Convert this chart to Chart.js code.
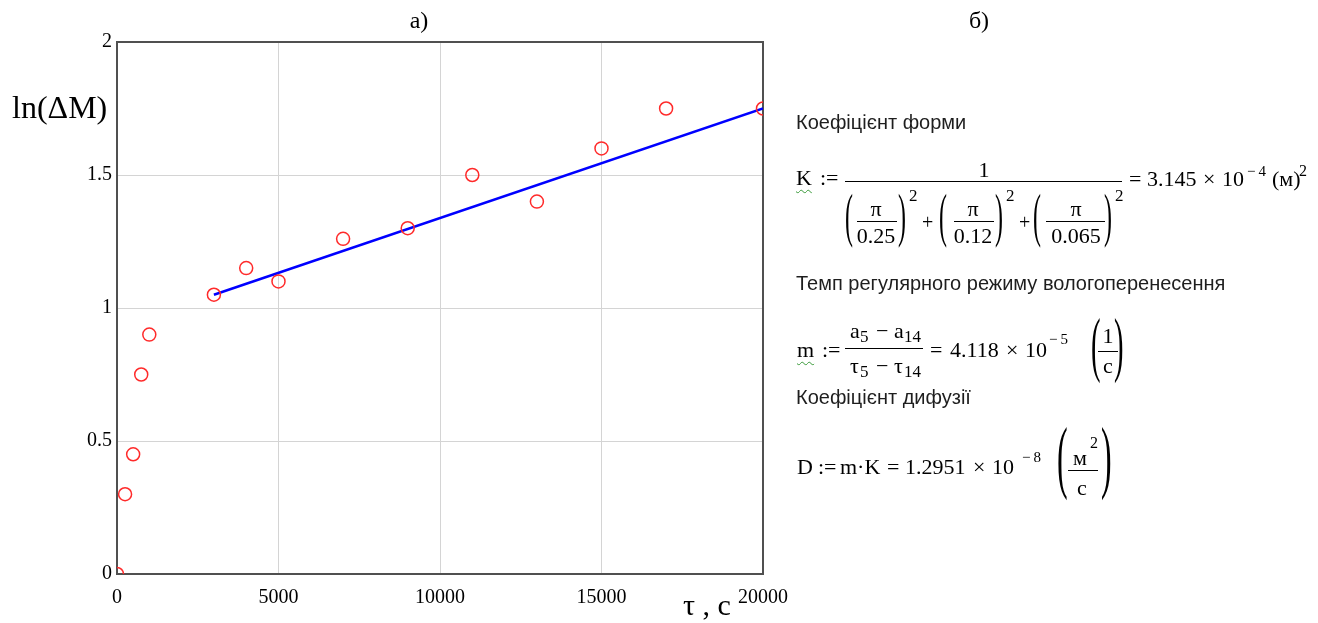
<!DOCTYPE html>
<html>
<head>
<meta charset="utf-8">
<script src="https://cdn.jsdelivr.net/npm/chart.js@4/dist/chart.umd.min.js"></script>
<style>
  html, body { margin:0; padding:0; background:#fff; }
  #wrap { position:relative; width:1318px; height:623px; overflow:hidden; background:#fff; }
  #c { position:absolute; left:0; top:0; }
  .wavy { text-decoration: underline wavy #3a9a3a; text-decoration-thickness: 1px; text-underline-offset: 4px; }
</style>
</head>
<body>
<div id="wrap">
  <canvas id="c" width="1318" height="623"></canvas>
</div>
<script>
// ---- data ----
const tauSec    = [0, 250, 500, 750, 1000, 3000, 4000, 5000, 7000, 9000, 11000, 13000, 15000, 17000, 20000];
const lnDeltaM  = [0, 0.3, 0.45, 0.75, 0.9, 1.05, 1.15, 1.1, 1.26, 1.3, 1.5, 1.4, 1.6, 1.75, 1.75];
const fitTau    = [3000, 20000];
const fitLn     = [1.05, 1.75];
const xTickLabels = ['0', '5000', '10000', '15000', '20000'];
const yTickLabels = ['0', '0.5', '1', '1.5', '2'];

const SERIF = "'Liberation Serif', 'Times New Roman', serif";
const SANS  = "'Liberation Sans', Arial, sans-serif";

const framePlugin = {
  id: 'frame',
  beforeDatasetsDraw(chart) {
    const a = chart.chartArea, ctx = chart.ctx;
    ctx.save();
    ctx.strokeStyle = '#505050';
    ctx.lineWidth = 2;
    ctx.strokeRect(a.left, a.top, a.right - a.left, a.bottom - a.top);
    ctx.restore();
  }
};

new Chart(document.getElementById('c'), {
  type: 'scatter',
  data: {
    datasets: [
      {
        type: 'line',
        data: fitTau.map((x, i) => ({ x, y: fitLn[i] })),
        borderColor: '#0000ff',
        borderWidth: 2.5,
        pointRadius: 0,
        fill: false,
        order: 2
      },
      {
        data: tauSec.map((x, i) => ({ x, y: lnDeltaM[i] })),
        pointStyle: 'circle',
        pointRadius: 6.5,
        pointBorderWidth: 1.5,
        borderColor: '#ff2a2a',
        backgroundColor: 'rgba(0,0,0,0)',
        clip: 0,
        order: 1
      }
    ]
  },
  options: {
    responsive: false,
    animation: false,
    devicePixelRatio: 1,
    layout: { padding: { left: 0, top: 42, right: 555, bottom: 0 } },
    plugins: { legend: { display: false }, tooltip: { enabled: false } },
    scales: {
      x: {
        type: 'linear', min: 0, max: 20000,
        border: { display: false },
        grid: { color: '#d4d4d4', lineWidth: 1, drawTicks: false },
        ticks: {
          stepSize: 5000, autoSkip: false, maxRotation: 0, padding: 12,
          color: '#000', font: { family: SERIF, size: 20 },
          callback: (v, i) => xTickLabels[i]
        },
        afterFit: s => { s.height = 49; }
      },
      y: {
        type: 'linear', min: 0, max: 2,
        border: { display: false },
        grid: { color: '#d4d4d4', lineWidth: 1, drawTicks: false },
        ticks: {
          stepSize: 0.5, autoSkip: false, padding: 5,
          color: '#000', font: { family: SERIF, size: 20 },
          callback: (v, i) => yTickLabels[i]
        },
        afterFit: s => { s.width = 117; }
      }
    }
  },
  plugins: [framePlugin]
});

// ---- text overlay ----
const wrap = document.getElementById('wrap');
function T(text, x, base, o = {}) {
  const s = document.createElement('span');
  s.textContent = text;
  const size = o.size || 22;
  const fam = o.sans ? SANS : SERIF;
  const k = o.sans ? 0.8465 : 0.8375;
  s.style.cssText = `position:absolute;white-space:pre;font-family:${fam};font-size:${size}px;line-height:${size}px;left:${x}px;top:${base - k * size}px;color:${o.color || '#000'};`;
  if (o.center) s.style.transform = 'translateX(-50%)';
  if (o.cls) s.className = o.cls;
  wrap.appendChild(s);
  return s;
}
function Bar(x1, x2, y, w = 1) {
  const d = document.createElement('div');
  d.style.cssText = `position:absolute;left:${x1}px;top:${y}px;width:${x2 - x1}px;height:${w}px;background:#000;`;
  wrap.appendChild(d);
}
function Paren(ch, x, top, bottom) {
  const h = bottom - top;
  const S = h / 0.853;
  const s = document.createElement('span');
  s.textContent = ch;
  s.style.cssText = `position:absolute;white-space:pre;font-family:${SERIF};font-size:${S}px;line-height:${S}px;left:${x}px;top:${top - 0.1615 * S}px;color:#000;transform:scaleX(0.4);transform-origin:0 0;`;
  wrap.appendChild(s);
}

// titles
T('а)', 419, 28, { size: 24, center: true });
T('б)', 979, 28, { size: 24, center: true });
T('ln(ΔM)', 12, 118, { size: 32 });
T('τ , c', 683, 615, { size: 30 });

// headings
const HC = '#1e1e1e';
T('Коефіцієнт форми', 796, 129, { sans: true, size: 20, color: HC });
T('Темп регулярного режиму вологоперенесення', 796, 290, { sans: true, size: 20, color: HC });
T('Коефіцієнт дифузії', 796, 404, { sans: true, size: 20, color: HC });

// K line
T('K', 796, 185, { cls: 'wavy' });
T(':=', 820, 185);
T('1', 984, 177, { center: true });
Bar(845, 1122, 181);
const terms = [
  { l: 845, c: 876, b1: 857, b2: 897, r: 898, sup: 909, den: '0.25' },
  { l: 939, c: 973, b1: 954, b2: 994, r: 995, sup: 1006, den: '0.12' },
  { l: 1033, c: 1076, b1: 1046, b2: 1105, r: 1104, sup: 1115, den: '0.065' }
];
terms.forEach((t, i) => {
  Paren('(', t.l, 196, 247);
  Paren(')', t.r, 196, 247);
  T('π', t.c, 216, { center: true });
  Bar(t.b1, t.b2, 221);
  T(t.den, t.c, 243, { center: true });
  T('2', t.sup, 201, { size: 17 });
  if (i < 2) T('+', t.sup + 13, 229, { size: 20 });
});
T('=', 1129, 186);
T('3.145', 1147, 186);
T('×', 1203, 186);
T('10', 1222, 186);
T('−\u20094', 1247, 177, { size: 15 });
T('(м)', 1272, 186);
T('2', 1299, 176, { size: 16 });

// m line
T('m', 797, 357, { cls: 'wavy' });
T(':=', 822, 357);
T('a', 850, 338); T('5', 860, 342, { size: 17 }); T('−', 876, 338); T('a', 894, 338); T('14', 904, 342, { size: 17 });
Bar(845, 923, 348);
T('τ', 850, 373); T('5', 860, 377, { size: 17 }); T('−', 876, 373); T('τ', 894, 373); T('14', 904, 377, { size: 17 });
T('=', 930, 357);
T('4.118', 950, 357);
T('×', 1006, 357);
T('10', 1025, 357);
T('−\u20095', 1049, 345, { size: 15 });
Paren('(', 1091, 320, 381);
Paren(')', 1114, 320, 381);
T('1', 1108, 343, { center: true });
Bar(1098, 1118, 351);
T('c', 1108, 373, { center: true });

// D line
T('D', 797, 474);
T(':=', 818, 474);
T('m·K', 840, 474);
T('=', 887, 474);
T('1.2951', 905, 474);
T('×', 973, 474);
T('10', 992, 474);
T('−\u20098', 1022, 463, { size: 15 });
Paren('(', 1057, 430, 498);
Paren(')', 1101, 430, 498);
T('м', 1080, 465, { center: true });
T('2', 1090, 448, { size: 16 });
Bar(1068, 1098, 470);
T('c', 1082, 495, { center: true });
</script>
</body>
</html>
